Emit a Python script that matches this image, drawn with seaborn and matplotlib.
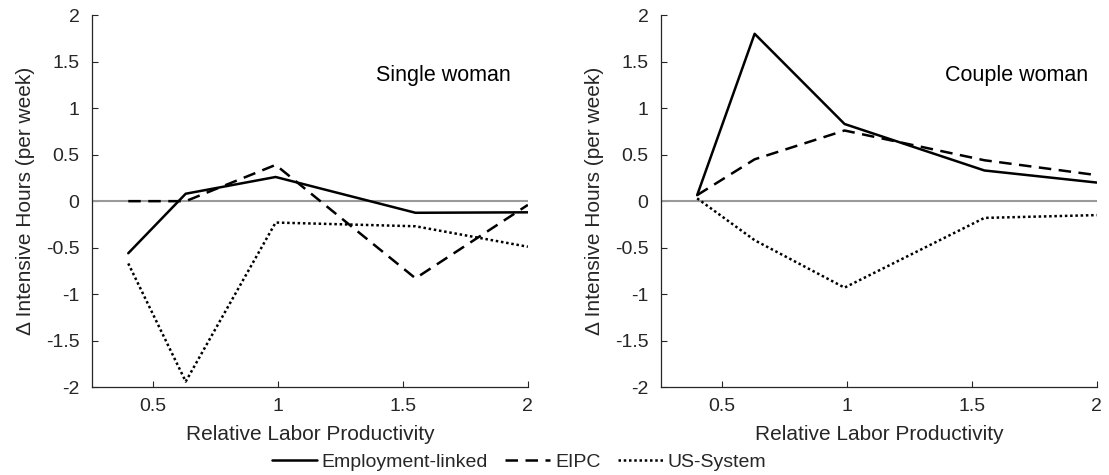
import numpy as np
import pandas as pd
import matplotlib
matplotlib.use("Agg")
import matplotlib.pyplot as plt
import seaborn as sns

# ---- data ----
productivity = [0.40, 0.63, 0.99, 1.55, 2.00]
policies = ["Employment-linked", "EIPC", "US-System"]

single_employment = [-0.56, 0.08, 0.26, -0.125, -0.12]
single_eipc = [0.00, 0.00, 0.39, -0.83, -0.04]
single_us = [-0.67, -1.94, -0.23, -0.27, -0.49]

couple_employment = [0.065, 1.80, 0.83, 0.33, 0.20]
couple_eipc = [0.065, 0.45, 0.76, 0.44, 0.28]
couple_us = [0.03, -0.42, -0.93, -0.18, -0.15]

panel_titles = ["Single woman", "Couple woman"]
yticks = [-2, -1.5, -1, -0.5, 0, 0.5, 1, 1.5, 2]
ytick_labels = ["-2", "-1.5", "-1", "-0.5", "0", "0.5", "1", "1.5", "2"]
xticks = [0.5, 1, 1.5, 2]
xtick_labels = ["0.5", "1", "1.5", "2"]


def long_frame(series_list):
    rows = []
    for name, vals in zip(policies, series_list):
        for x, y in zip(productivity, vals):
            rows.append({"x": x, "y": y, "policy": name})
    return pd.DataFrame(rows)


frames = [
    long_frame([single_employment, single_eipc, single_us]),
    long_frame([couple_employment, couple_eipc, couple_us]),
]

sns.set_theme(style="white")
plt.rcParams["font.family"] = ["Liberation Sans", "DejaVu Sans"]

ink = "#262626"
fig = plt.figure(figsize=(11.09, 4.75), dpi=100)
ax_l = fig.add_axes([0.083, 0.185, 0.393, 0.783])
ax_r = fig.add_axes([0.596, 0.185, 0.393, 0.783])

dashes = {"Employment-linked": "", "EIPC": (5, 3), "US-System": (1, 1.1)}
title_pos = [0.961, 0.979]

for ax, df, title, tx in zip([ax_l, ax_r], frames, panel_titles, title_pos):
    ax.axhline(0, color="#999999", lw=1.5, zorder=1)
    sns.lineplot(data=df, x="x", y="y", style="policy", dashes=dashes,
                 color="black", lw=1.8, ax=ax, legend=(ax is ax_l),
                 sort=False, estimator=None)
    ax.set_xlim(0.255, 2.0)
    ax.set_ylim(-2, 2)
    ax.set_xticks(xticks)
    ax.set_xticklabels(xtick_labels)
    ax.set_yticks(yticks)
    ax.set_yticklabels(ytick_labels)
    ax.tick_params(direction="in", length=4, width=0.8, colors=ink,
                   labelsize=14, left=True, bottom=True)
    ax.tick_params(axis="y", pad=9)
    ax.tick_params(axis="x", pad=8)
    for s in ["top", "right"]:
        ax.spines[s].set_visible(False)
    for s in ["left", "bottom"]:
        ax.spines[s].set_color(ink)
        ax.spines[s].set_linewidth(0.9)
    ax.set_xlabel("Relative Labor Productivity", fontsize=15, color=ink, labelpad=7)
    ax.set_ylabel("\u0394 Intensive Hours (per week)", fontsize=15, color=ink, labelpad=8)
    ax.text(tx, 0.839, title, transform=ax.transAxes, ha="right", va="center",
            fontsize=15.5, color="black")

handles, labels = ax_l.get_legend_handles_labels()
ax_l.get_legend().remove()
fig.legend(handles, labels, loc="center", bbox_to_anchor=(0.468, 0.027), ncol=3,
           frameon=False, fontsize=14, handlelength=2.3, handletextpad=0.25,
           columnspacing=0.9, borderaxespad=0)

fig.savefig("out.png", dpi=100, facecolor="white")
